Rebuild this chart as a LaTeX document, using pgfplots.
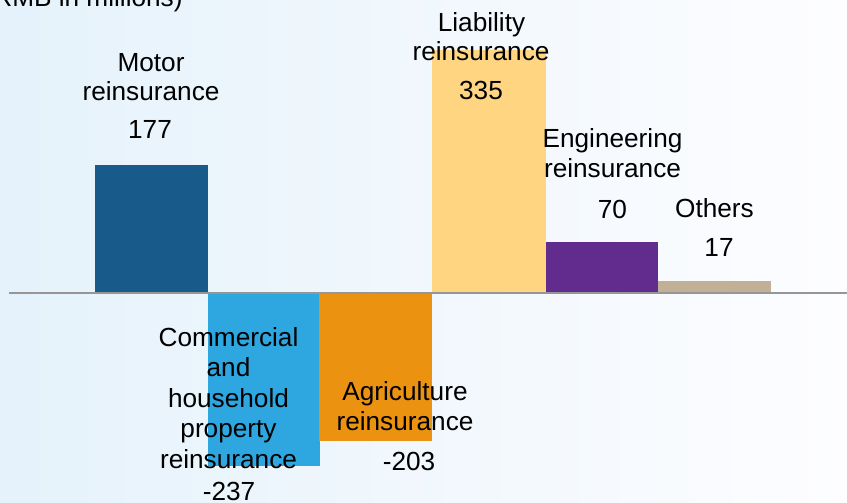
\documentclass[border=0pt]{standalone}
\usepackage{fontspec}
\setmainfont{Liberation Sans}
\usepackage{pgfplots}
\pgfplotsset{compat=1.18}

\definecolor{cMotor}{RGB}{24,90,138}
\definecolor{cComm}{RGB}{46,166,224}
\definecolor{cAgri}{RGB}{235,147,16}
\definecolor{cLiab}{RGB}{255,213,130}
\definecolor{cEng}{RGB}{98,44,143}
\definecolor{cOth}{RGB}{194,176,150}
\definecolor{bgL}{RGB}{229,242,251}
\definecolor{bgR}{RGB}{253,253,255}
\definecolor{baseln}{RGB}{150,150,150}

\tikzset{lbl/.style={font=\fontsize{13.1}{15}\selectfont, text=black, anchor=base, inner sep=0pt}}

\begin{document}
\begin{tikzpicture}
\useasboundingbox (0,0) rectangle (423.5pt,251.5pt);
\clip (0,0) rectangle (423.5pt,251.5pt);
\fill[left color=bgL, right color=bgR] (0,0) rectangle (423.5pt,251.5pt);
\begin{axis}[
    at={(0,0)}, anchor=south west,
    scale only axis,
    width=423.5pt, height=251.5pt,
    xmin=0, xmax=847,
    ymin=-288.6, ymax=403.7,
    hide axis,
    clip=false,
]
% one bar per line of business (x in picture units, y in RMB millions)
\addplot[ybar, bar width=113, bar shift=0pt, fill=cMotor, draw=none] coordinates {(151.5,177)};
\addplot[ybar, bar width=112, bar shift=0pt, fill=cComm, draw=none] coordinates {(263.5,-237)};
\addplot[ybar, bar width=113, bar shift=0pt, fill=cAgri, draw=none] coordinates {(375.5,-203)};
\addplot[ybar, bar width=114, bar shift=0pt, fill=cLiab, draw=none] coordinates {(489,335)};
\addplot[ybar, bar width=112, bar shift=0pt, fill=cEng, draw=none] coordinates {(602,70)};
\addplot[ybar, bar width=113, bar shift=0pt, fill=cOth, draw=none] coordinates {(714.5,17)};
% zero line
\addplot[baseln, line width=1pt] coordinates {(9,0) (847,0)};

% labels
\node[lbl, anchor=base east] at (axis cs:183,394.1) {(RMB in millions)};

\node[lbl] at (axis cs:151,305.0) {Motor};
\node[lbl] at (axis cs:151,264.7) {reinsurance};
\node[lbl] at (axis cs:150,212.4) {177};

\node[lbl] at (axis cs:228.5,-73.5) {Commercial};
\node[lbl] at (axis cs:228.5,-114.8) {and};
\node[lbl] at (axis cs:228.5,-157.5) {household};
\node[lbl] at (axis cs:228.5,-198.8) {property};
\node[lbl] at (axis cs:228.5,-240.5) {reinsurance};
\node[lbl] at (axis cs:229,-284.5) {-237};

\node[lbl] at (axis cs:405,-146.9) {Agriculture};
\node[lbl] at (axis cs:405,-188.2) {reinsurance};
\node[lbl] at (axis cs:409,-243.2) {-203};

\node[lbl] at (axis cs:481.5,360.1) {Liability};
\node[lbl] at (axis cs:481,319.8) {reinsurance};
\node[lbl] at (axis cs:481,266.1) {335};

\node[lbl] at (axis cs:612.5,201.0) {Engineering};
\node[lbl] at (axis cs:612.5,159.7) {reinsurance};
\node[lbl] at (axis cs:612.5,103.6) {70};

\node[lbl] at (axis cs:714.5,104.6) {Others};
\node[lbl] at (axis cs:719,50.4) {17};
\end{axis}
\end{tikzpicture}
\end{document}
